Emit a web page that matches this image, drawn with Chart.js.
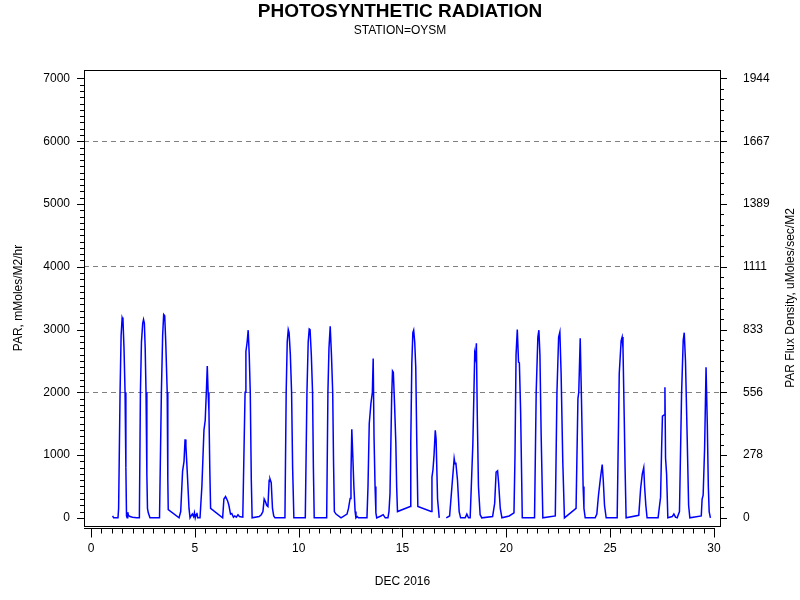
<!DOCTYPE html>
<html>
<head>
<meta charset="utf-8">
<script src="https://cdn.jsdelivr.net/npm/chart.js@4"></script>
<style>
  body { margin: 0; background: #fff; }
</style>
</head>
<body>
<canvas id="chart" width="800" height="600"></canvas>
<script>
// day of month (fractional) and PAR in mMoles/M2/hr
const days = [
  1.04, 1.09, 1.30, 1.33, 1.40, 1.45, 1.50, 1.54, 1.59, 1.64, 1.68, 1.71, 1.74, 1.77, 1.80, 1.88, 2.00, 2.20, 2.33,
  2.38, 2.43, 2.49, 2.53, 2.57, 2.61, 2.65, 2.69, 2.72, 2.76, 2.84, 3.30,
  3.39, 3.45, 3.50, 3.55, 3.60, 3.67, 3.70, 3.72, 4.24,
  4.32, 4.41, 4.48, 4.53, 4.57, 4.64, 4.72, 4.77, 4.82, 4.88, 4.94, 4.98, 5.02, 5.06, 5.10, 5.14, 5.25,
  5.34, 5.44, 5.50, 5.56, 5.60, 5.64, 5.68, 5.72, 5.76, 6.34,
  6.40, 6.48, 6.58, 6.64, 6.72, 6.78, 6.86, 6.92, 7.00, 7.08, 7.15, 7.31,
  7.42, 7.46, 7.52, 7.57, 7.62, 7.67, 7.72, 7.76,
  8.10, 8.20, 8.28, 8.34, 8.40, 8.46, 8.52, 8.58, 8.62, 8.68, 8.74, 8.80, 8.86, 9.34,
  9.40, 9.45, 9.50, 9.54, 9.60, 9.66, 9.71, 9.77, 10.32,
  10.40, 10.46, 10.51, 10.55, 10.61, 10.67, 10.71, 10.75, 11.35,
  11.41, 11.46, 11.52, 11.58, 11.64, 11.68, 11.72, 11.80, 12.04,
  12.33, 12.40, 12.48, 12.52, 12.56, 12.61, 12.66, 12.72, 12.76, 12.82, 12.88, 13.29,
  13.34, 13.40, 13.48, 13.55, 13.59, 13.63, 13.68, 13.72, 13.76, 13.96, 14.07, 14.17, 14.30,
  14.35, 14.40, 14.48, 14.52, 14.56, 14.62, 14.68, 14.72, 14.76,
  15.37, 15.40, 15.45, 15.50, 15.54, 15.59, 15.64, 15.69, 15.74, 16.38,
  16.42, 16.47, 16.52, 16.58, 16.62, 16.69, 16.77, 16.95,
  17.11, 17.27, 17.38, 17.49, 17.53, 17.57, 17.65, 17.73, 17.80, 18.02, 18.10, 18.18, 18.26,
  18.39, 18.48, 18.52, 18.56, 18.60, 18.66, 18.74, 18.82, 19.34,
  19.44, 19.51, 19.58, 19.63, 19.71, 19.79, 20.14, 20.37,
  20.42, 20.47, 20.53, 20.59, 20.63, 20.69, 20.77, 21.36,
  21.44, 21.52, 21.57, 21.62, 21.68, 21.76, 22.36,
  22.44, 22.52, 22.58, 22.64, 22.72, 22.80, 23.36,
  23.45, 23.49, 23.56, 23.62, 23.70, 23.74, 23.80, 24.28,
  24.36, 24.44, 24.54, 24.62, 24.67, 24.73, 24.81, 25.34,
  25.44, 25.53, 25.58, 25.62, 25.68, 25.72, 25.77, 26.38,
  26.47, 26.55, 26.62, 26.66, 26.72, 26.78, 27.31,
  27.43, 27.48, 27.52, 27.60, 27.64, 27.67, 27.72, 27.78, 27.99, 28.07, 28.15, 28.23, 28.34,
  28.44, 28.52, 28.57, 28.63, 28.71, 28.78, 28.84, 29.39,
  29.43, 29.48, 29.55, 29.62, 29.68, 29.73, 29.77, 29.83
];
const par = [
  30, 0, 0, 150, 2000, 2900, 3190, 3150, 2700, 2000, 800, 30, 0, 90, 40, 20, 10, 0, 0,
  2000, 2800, 3100, 3160, 3100, 2700, 2000, 700, 150, 80, 0, 0,
  2000, 2900, 3240, 3220, 2800, 2000, 600, 130, 0,
  100, 740, 900, 1250, 1150, 700, 150, 0, 30, 60, 20, 80, 0, 50, 80, 0, 0,
  500, 1400, 1550, 2050, 2420, 2000, 1700, 800, 150, 0,
  300, 340, 270, 200, 60, 70, 10, 30, 10, 50, 20, 10,
  2000, 2650, 2800, 2990, 2600, 2000, 600, 0,
  20, 50, 100, 300, 260, 200, 180, 600, 620, 560, 150, 30, 0, 0,
  2000, 2800, 3000, 2950, 2600, 2000, 800, 0, 0,
  2000, 2800, 3010, 3000, 2600, 2000, 800, 0, 0,
  2000, 2700, 3050, 2600, 2000, 900, 100, 60, 0,
  60, 150, 310, 700, 1410, 970, 500, 100, 0, 20, 0, 0,
  500, 1500, 1820, 2000, 2540, 1300, 500, 80, 0, 30, 50, 0, 0,
  100, 390, 1925, 2340, 2320, 1800, 1200, 500, 100,
  180, 1200, 2460, 2950, 2990, 2800, 2400, 1200, 180, 100,
  650, 770, 1000, 1395, 1250, 300, 0, null,
  0, 30, 490, 945, 860, 880, 600, 100, 0, 0, 60, 0, 0,
  1180, 2620, 2550, 2780, 1700, 500, 50, 0, 20,
  230, 730, 750, 560, 150, 0, 30, 80,
  1000, 2600, 3000, 2480, 2470, 1700, 0, 0,
  2000, 2880, 2990, 2600, 1300, 0, 30,
  2000, 2880, 2960, 2300, 900, 0, 150,
  1900, 2000, 2860, 1900, 500, 150, 0, 0,
  60, 360, 650, 850, 600, 200, 0, 0,
  2300, 2820, 2880, 2700, 1600, 800, 0, 40,
  470, 700, 800, 500, 200, 0, 0,
  330, 1100, 1620, 1640, 2080, 950, 700, 0, 20, 60, 10, 0, 100,
  1960, 2830, 2950, 2500, 1300, 200, 0, 30,
  300, 360, 1100, 2400, 1500, 500, 100, 0
];
const leftTicks = [0, 1000, 2000, 3000, 4000, 5000, 6000, 7000];
const gridValues = [2000, 4000, 6000];
const xLabels = [0, 5, 10, 15, 20, 25, 30];
const toFlux = 1000 / 3600; // mMoles/M2/hr -> uMoles/sec/M2

const FONT = '"Liberation Sans", Arial, sans-serif';

// frame, separate x axis line, tick marks and right title
const axisDecor = {
  id: 'axisDecor',
  afterDraw(chart) {
    const { ctx, chartArea: a, scales } = chart;
    const x = scales.x, y = scales.y;
    ctx.save();
    ctx.strokeStyle = '#000';
    ctx.lineWidth = 1;
    ctx.strokeRect(a.left + 0.5, a.top + 0.5, a.right - a.left - 1, a.bottom - a.top);

    ctx.beginPath();
    const ax = Math.round(a.bottom) + 2.5;
    ctx.moveTo(a.left, ax);
    ctx.lineTo(Math.round(x.getPixelForValue(30)) + 1, ax);
    for (let d = 0; d <= 30; d += 0.5) {
      const px = Math.round(x.getPixelForValue(d)) + 0.5;
      ctx.moveTo(px, ax);
      ctx.lineTo(px, ax + (d % 5 === 0 ? 9 : 5));
    }
    for (let v = 0; v <= 7000; v += 100) {
      const py = Math.round(y.getPixelForValue(v)) + 0.5;
      ctx.moveTo(a.left, py);
      ctx.lineTo(a.left - (v % 1000 === 0 ? 7 : 4), py);
    }
    for (let k = 0; k <= 42; k++) {
      const py = Math.round(y.getPixelForValue(k * 1000 / 6)) + 0.5;
      ctx.moveTo(a.right, py);
      ctx.lineTo(a.right + (k % 6 === 0 ? 6 : 3), py);
    }
    ctx.stroke();

    ctx.fillStyle = '#000';
    ctx.font = '12px ' + FONT;
    ctx.textAlign = 'center';
    ctx.textBaseline = 'middle';
    ctx.translate(791, (a.top + a.bottom) / 2);
    ctx.rotate(-Math.PI / 2);
    ctx.fillText('PAR Flux Density, uMoles/sec/M2', 0, 0);
    ctx.restore();
  }
};

new Chart(document.getElementById('chart'), {
  type: 'line',
  data: {
    datasets: [{
      data: days.map((d, i) => ({ x: d, y: par[i] })),
      borderColor: '#0000ff',
      borderWidth: 1.5,
      pointRadius: 0,
      tension: 0,
      spanGaps: false
    }]
  },
  options: {
    responsive: false,
    animation: false,
    devicePixelRatio: 1,
    layout: { padding: 0 },
    plugins: {
      legend: { display: false },
      tooltip: { enabled: false },
      title: {
        display: true,
        text: 'PHOTOSYNTHETIC RADIATION',
        color: '#000',
        font: { family: FONT, size: 19, weight: 'bold' },
        padding: { top: 0, bottom: 1 }
      },
      subtitle: {
        display: true,
        text: 'STATION=OYSM',
        color: '#000',
        font: { family: FONT, size: 12 },
        padding: { top: 0, bottom: 31.8 }
      }
    },
    scales: {
      x: {
        type: 'linear',
        position: 'bottom',
        min: -0.337,
        max: 30.34,
        afterBuildTicks: s => { s.ticks = xLabels.map(v => ({ value: v })); },
        afterFit: s => { s.height = 74; },
        grid: { display: false },
        border: { display: false },
        ticks: { color: '#000', font: { family: FONT, size: 12 }, padding: 7, maxRotation: 0 },
        title: {
          display: true,
          text: 'DEC 2016',
          color: '#000',
          font: { family: FONT, size: 12 },
          padding: { top: 0, bottom: 11 }
        }
      },
      y: {
        position: 'left',
        min: -130,
        max: 7135,
        afterBuildTicks: s => { s.ticks = leftTicks.map(v => ({ value: v })); },
        afterFit: s => { s.width = 84; },
        grid: {
          drawTicks: false,
          color: c => (c.tick && gridValues.includes(c.tick.value)) ? '#808080' : 'rgba(0,0,0,0)',
          lineWidth: 1
        },
        border: { display: false, dash: [5, 4] },
        ticks: {
          color: '#000',
          font: { family: FONT, size: 12 },
          padding: 14,
          callback: v => String(v)
        },
        title: {
          display: true,
          text: 'PAR, mMoles/M2/hr',
          color: '#000',
          font: { family: FONT, size: 12 },
          padding: { top: 11, bottom: 0 }
        }
      },
      y2: {
        position: 'right',
        min: -130 * toFlux,
        max: 7135 * toFlux,
        afterBuildTicks: s => { s.ticks = leftTicks.map(v => ({ value: v * toFlux })); },
        afterFit: s => { s.width = 79; },
        grid: { display: false },
        border: { display: false },
        ticks: {
          color: '#000',
          font: { family: FONT, size: 12 },
          padding: 14,
          callback: v => String(Math.round(v))
        }
      }
    }
  },
  plugins: [axisDecor]
});
</script>
</body>
</html>
